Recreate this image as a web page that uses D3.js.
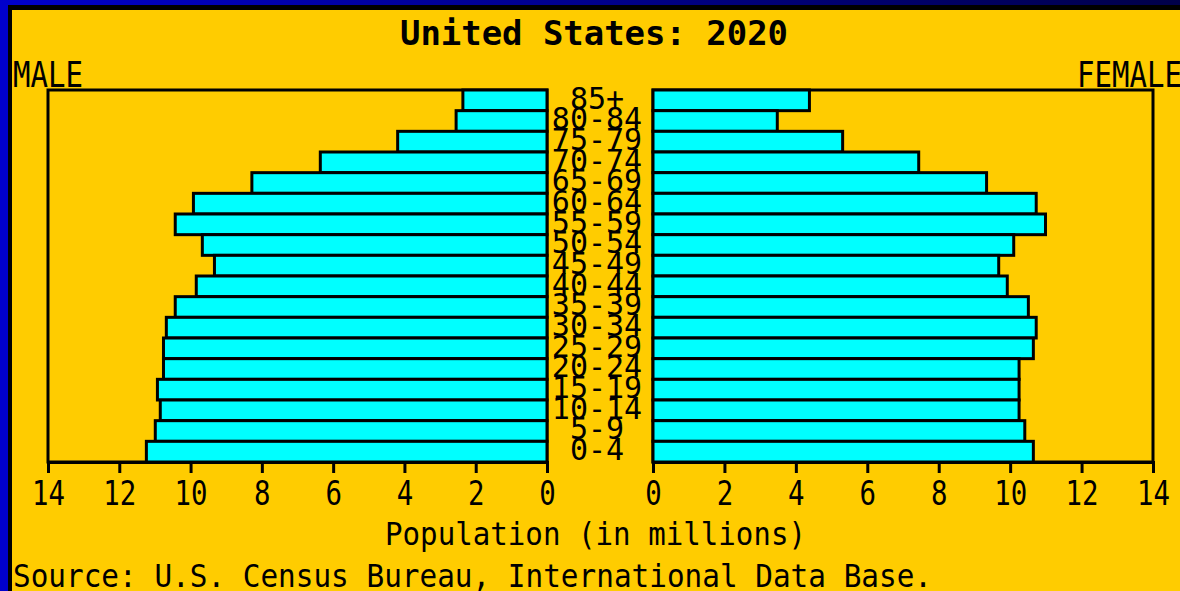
<!DOCTYPE html>
<html>
<head>
<meta charset="utf-8">
<script src="https://cdn.jsdelivr.net/npm/d3@7"></script>
<style>
  body { margin: 0; background: #0000cc; }
  svg { display: block; }
  text { font-family: "DejaVu Sans Mono", "Liberation Mono", monospace; fill: #000; }
</style>
</head>
<body>
<div id="chart"></div>
<script>
// age groups, top of pyramid first
const ageGroups = ["85+", "80-84", "75-79", "70-74", "65-69", "60-64", "55-59", "50-54", "45-49",
  "40-44", "35-39", "30-34", "25-29", "20-24", "15-19", "10-14", "5-9", "0-4"];
// population in millions
const maleValues = [2.36, 2.55, 4.19, 6.36, 8.28, 9.92, 10.43, 9.67, 9.33,
  9.84, 10.43, 10.68, 10.76, 10.76, 10.93, 10.85, 10.99, 11.24];
const femaleValues = [4.38, 3.48, 5.31, 7.44, 9.34, 10.73, 10.99, 10.10, 9.68,
  9.92, 10.51, 10.73, 10.65, 10.25, 10.25, 10.25, 10.41, 10.65];
const tickValues = [0, 2, 4, 6, 8, 10, 12, 14];

const chartTitle = "United States: 2020";
const axisTitle = "Population (in millions)";
const sourceNote = "Source: U.S. Census Bureau, International Data Base.";

const width = 1180, height = 591;
const yellow = "#ffcc00", cyan = "#00ffff";

const svg = d3.select("#chart").append("svg")
  .attr("width", width)
  .attr("height", height);

// blue window border with a gradient along the top
const grad = svg.append("defs").append("linearGradient")
  .attr("id", "topbar").attr("x1", "0%").attr("x2", "100%");
grad.append("stop").attr("offset", "0%").attr("stop-color", "#0000cc");
grad.append("stop").attr("offset", "100%").attr("stop-color", "#00004a");

svg.append("rect").attr("width", width).attr("height", height).attr("fill", "#0000cc");
svg.append("rect").attr("width", width).attr("height", 6).attr("fill", "url(#topbar)");
svg.append("rect").attr("x", 8).attr("y", 5).attr("width", width).attr("height", height).attr("fill", "#000");
svg.append("rect").attr("x", 12).attr("y", 10).attr("width", width).attr("height", height).attr("fill", yellow);

// + SCALES
const xLeft = d3.scaleLinear().domain([0, 14]).range([547, 48]);
const xRight = d3.scaleLinear().domain([0, 14]).range([653, 1153]);
const y = d3.scaleBand().domain(ageGroups).range([90, 462]);

// frames
[xLeft, xRight].forEach(sc => {
  const [a, b] = d3.extent(sc.range());
  svg.append("rect")
    .attr("x", a).attr("y", 90)
    .attr("width", b - a).attr("height", 462 - 90)
    .attr("fill", "none")
    .attr("stroke", "#000")
    .attr("stroke-width", 3);
});

// bars
svg.append("g").selectAll("rect")
  .data(ageGroups.map((a, i) => ({ age: a, v: maleValues[i] })))
  .join("rect")
  .attr("x", d => xLeft(d.v))
  .attr("y", d => y(d.age))
  .attr("width", d => xLeft(0) - xLeft(d.v))
  .attr("height", y.bandwidth())
  .attr("fill", cyan)
  .attr("stroke", "#000")
  .attr("stroke-width", 3);

svg.append("g").selectAll("rect")
  .data(ageGroups.map((a, i) => ({ age: a, v: femaleValues[i] })))
  .join("rect")
  .attr("x", xRight(0))
  .attr("y", d => y(d.age))
  .attr("width", d => xRight(d.v) - xRight(0))
  .attr("height", y.bandwidth())
  .attr("fill", cyan)
  .attr("stroke", "#000")
  .attr("stroke-width", 3);

// age labels in the middle, overlapping like the original
svg.append("g").selectAll("text")
  .data(ageGroups)
  .join("text")
  .attr("x", 597)
  .attr("y", d => y(d) + y.bandwidth() - 2)
  .attr("text-anchor", "middle")
  .attr("font-size", 30)
  .text(d => d);

// + AXES
[xLeft, xRight].forEach(sc => {
  const g = svg.append("g")
    .attr("transform", "translate(0,462)")
    .call(d3.axisBottom(sc).tickValues(tickValues).tickSize(11).tickFormat(d3.format("d")));
  g.select(".domain").attr("stroke", "#000").attr("stroke-width", 3);
  g.selectAll(".tick line").attr("stroke", "#000").attr("stroke-width", 3);
  g.selectAll(".tick text")
    .attr("y", 43).attr("dy", 0)
    .attr("font-size", 34)
    .attr("font-family", null)
    .attr("fill", "#000")
    .attr("textLength", d => String(d).length * 16.5)
    .attr("lengthAdjust", "spacingAndGlyphs");
});

// titles
svg.append("text")
  .attr("x", 594).attr("y", 45)
  .attr("text-anchor", "middle")
  .attr("font-size", 34).attr("font-weight", "bold")
  .attr("textLength", 388).attr("lengthAdjust", "spacingAndGlyphs")
  .text(chartTitle);

svg.append("text")
  .attr("x", 13).attr("y", 87)
  .attr("font-size", 35)
  .attr("textLength", 70).attr("lengthAdjust", "spacingAndGlyphs")
  .text("MALE");

svg.append("text")
  .attr("x", 1077).attr("y", 87)
  .attr("font-size", 35)
  .attr("textLength", 105).attr("lengthAdjust", "spacingAndGlyphs")
  .text("FEMALE");

svg.append("text")
  .attr("x", 385).attr("y", 545)
  .attr("font-size", 32)
  .attr("textLength", 421).attr("lengthAdjust", "spacingAndGlyphs")
  .text(axisTitle);

svg.append("text")
  .attr("x", 13).attr("y", 587)
  .attr("font-size", 32)
  .attr("textLength", 919).attr("lengthAdjust", "spacingAndGlyphs")
  .text(sourceNote);
</script>
</body>
</html>
